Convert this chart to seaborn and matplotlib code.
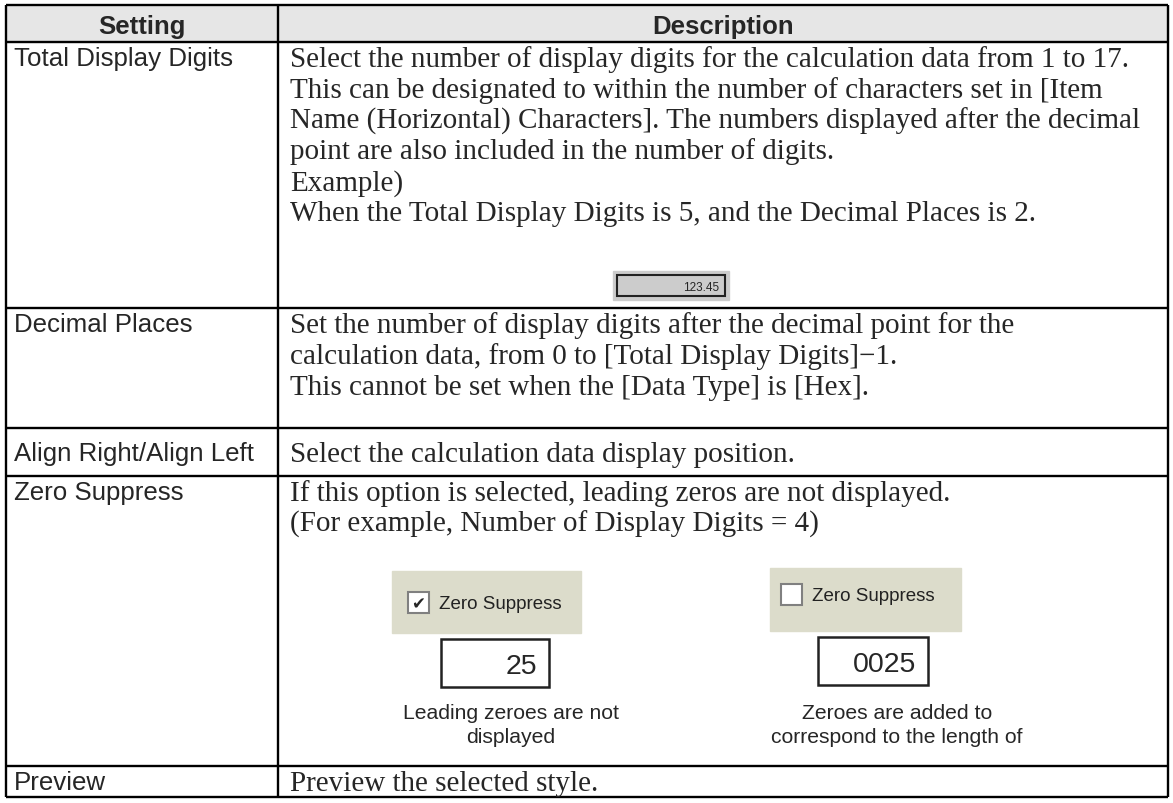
import matplotlib.pyplot as plt
import matplotlib.patches as mpatches
import seaborn as sns

# table content
headers = ["Setting", "Description"]
settings = ["Total Display Digits", "Decimal Places", "Align Right/Align Left",
            "Zero Suppress", "Preview"]
descriptions = [
    ["Select the number of display digits for the calculation data from 1 to 17.",
     "This can be designated to within the number of characters set in [Item",
     "Name (Horizontal) Characters]. The numbers displayed after the decimal",
     "point are also included in the number of digits.",
     "Example)",
     "When the Total Display Digits is 5, and the Decimal Places is 2."],
    ["Set the number of display digits after the decimal point for the",
     "calculation data, from 0 to [Total Display Digits]\u22121.",
     "This cannot be set when the [Data Type] is [Hex]."],
    ["Select the calculation data display position."],
    ["If this option is selected, leading zeros are not displayed.",
     "(For example, Number of Display Digits = 4)"],
    ["Preview the selected style."],
]
sample_value = "123.45"
suppress_label = "Zero Suppress"
suppress_checked = [True, False]
suppress_values = ["25", "0025"]
suppress_captions = [["Leading zeroes are not", "displayed"],
                     ["Zeroes are added to", "correspond to the length of"]]

# layout (pixels)
W, H = 1173, 804
x_left, x_mid, x_right = 6, 278, 1168
row_edges = [6, 43, 309, 429, 477, 767, 798]
line_gap = 30.8

sns.set_theme(style="white")
plt.rcParams["font.family"] = ["Liberation Sans", "DejaVu Sans"]

fig = plt.figure(figsize=(W / 100, H / 100), dpi=100)
ax = fig.add_axes([0, 0, 1, 1])
ax.set_xlim(0, W)
ax.set_ylim(H, 0)
ax.axis("off")

# header
ax.add_patch(mpatches.Rectangle((x_left, row_edges[0]), x_right - x_left,
                                row_edges[1] - row_edges[0], color="#e6e6e6", zorder=0))
hy = (row_edges[0] + row_edges[1]) / 2
ax.text((x_left + x_mid) / 2, hy, headers[0], ha="center", va="center_baseline",
        fontsize=18.5, fontweight="bold")
ax.text((x_mid + x_right) / 2, hy, headers[1], ha="center", va="center_baseline",
        fontsize=18.5, fontweight="bold")

# rows: multi-line cells start at the top, single-line cells are centred
for i, (name, lines) in enumerate(zip(settings, descriptions)):
    top, bottom = row_edges[i + 1], row_edges[i + 2]
    if len(lines) == 1:
        y0 = (top + bottom) / 2 + 9
    else:
        y0 = top + 24
    ax.text(x_left + 8, y0 - 1, name, fontsize=18.6, va="baseline")
    for j, line in enumerate(lines):
        ax.text(x_mid + 12, y0 + j * line_gap, line, fontsize=21,
                family="Liberation Serif", va="baseline")

# grid lines
ax.hlines(row_edges, x_left, x_right, color="black", lw=1.7)
ax.vlines([x_left, x_mid, x_right], row_edges[0], row_edges[-1], color="black", lw=1.7)

# 123.45 sample box
ax.add_patch(mpatches.Rectangle((613, 272), 116, 29, color="#cccccc", zorder=1))
ax.add_patch(mpatches.Rectangle((617, 276), 108, 21, fill=False, ec="#222222", lw=1.5, zorder=2))
ax.text(719, 291, sample_value, fontsize=8.5, ha="right", va="baseline", zorder=3)

# zero suppress widgets
widgets = [dict(bx=392, by=572, bw=189, bh=62, cx=408, cy=593, nx=441, ny=640, nw=108, cap=511),
           dict(bx=770, by=569, bw=191, bh=63, cx=781, cy=585, nx=818, ny=638, nw=110, cap=897)]
for w, checked, val, cap in zip(widgets, suppress_checked, suppress_values, suppress_captions):
    ax.add_patch(mpatches.Rectangle((w["bx"], w["by"]), w["bw"], w["bh"], color="#dcdccb", zorder=1))
    ax.add_patch(mpatches.Rectangle((w["cx"], w["cy"]), 21, 21, fc="white", ec="#808080",
                                    lw=1.5, zorder=2))
    if checked:
        ax.text(w["cx"] + 10.5, w["cy"] + 11, "\u2714", family="DejaVu Sans", fontsize=12,
                ha="center", va="center", zorder=3)
    ax.text(w["cx"] + 31, w["cy"] + 16, suppress_label, fontsize=13.5, color="#222222",
            va="baseline", zorder=3)
    ax.add_patch(mpatches.Rectangle((w["nx"], w["ny"]), w["nw"], 48, fc="white", ec="#222222",
                                    lw=1.8, zorder=2))
    ax.text(w["nx"] + w["nw"] - 12, w["ny"] + 34, val, fontsize=20.5, ha="right",
            va="baseline", zorder=3)
    for k, cline in enumerate(cap):
        ax.text(w["cap"], 719 + k * 24.5, cline, fontsize=15.2, ha="center", va="baseline")

plt.savefig("out.png", dpi=100)
